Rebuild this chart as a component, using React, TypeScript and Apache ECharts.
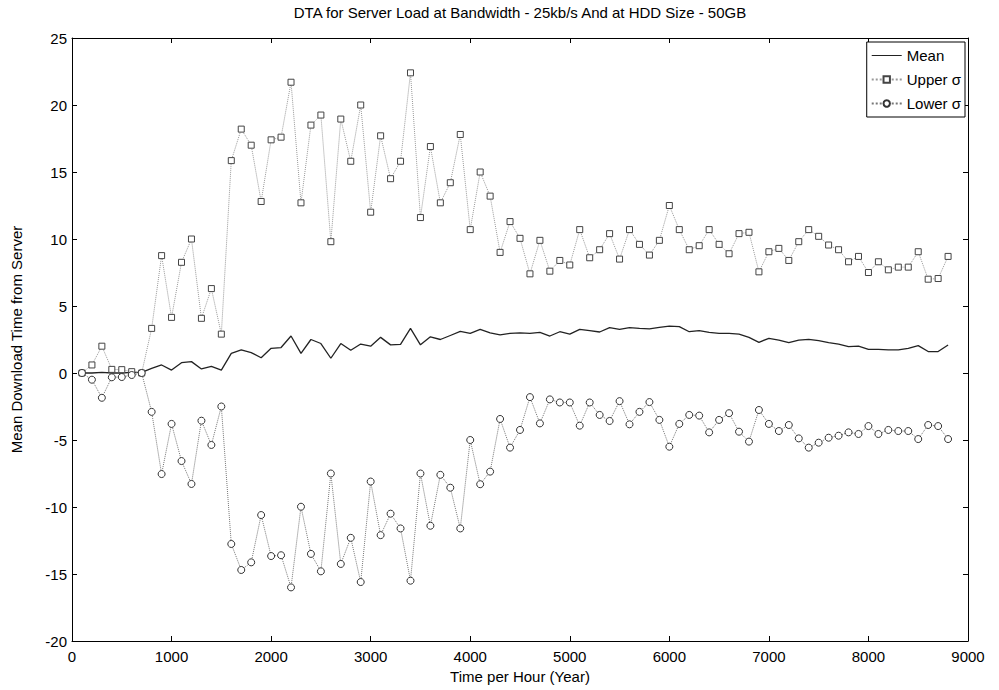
import React, { useEffect, useRef } from "react";
import * as echarts from "echarts";

const xValues: number[] = [
  100, 200, 300, 400, 500, 600, 700, 800, 900, 1000,
  1100, 1200, 1300, 1400, 1500, 1600, 1700, 1800, 1900, 2000,
  2100, 2200, 2300, 2400, 2500, 2600, 2700, 2800, 2900, 3000,
  3100, 3200, 3300, 3400, 3500, 3600, 3700, 3800, 3900, 4000,
  4100, 4200, 4300, 4400, 4500, 4600, 4700, 4800, 4900, 5000,
  5100, 5200, 5300, 5400, 5500, 5600, 5700, 5800, 5900, 6000,
  6100, 6200, 6300, 6400, 6500, 6600, 6700, 6800, 6900, 7000,
  7100, 7200, 7300, 7400, 7500, 7600, 7700, 7800, 7900, 8000,
  8100, 8200, 8300, 8400, 8500, 8600, 8700, 8800,
];

const meanValues: number[] = [
  0, 0, 0.05, 0, 0, 0.05, 0.05, 0.35, 0.6, 0.22,
  0.77, 0.85, 0.3, 0.5, 0.22, 1.47, 1.72, 1.52, 1.14, 1.84,
  1.9, 2.76, 1.47, 2.5, 2.2, 1.1, 2.2, 1.7, 2.16, 2.0,
  2.66, 2.1, 2.14, 3.33, 2.1, 2.7, 2.5, 2.8, 3.1, 2.96,
  3.26, 3.0, 2.84, 2.96, 3.0, 2.96, 3.03, 2.76, 3.08, 2.9,
  3.26, 3.16, 3.06, 3.38, 3.26, 3.38, 3.33, 3.3, 3.4, 3.5,
  3.46, 3.08, 3.16, 3.03, 2.96, 2.96, 2.9, 2.66, 2.29, 2.59,
  2.46, 2.26, 2.46, 2.51, 2.41, 2.26, 2.16, 1.97, 2.0, 1.77,
  1.77, 1.72, 1.72, 1.84, 2.04, 1.6, 1.6, 2.09,
];

const upperValues: number[] = [
  0, 0.6, 2.0, 0.27, 0.25, 0.1, 0.0, 3.33, 8.76, 4.15,
  8.26, 10.0, 4.08, 6.3, 2.9, 15.85, 18.2, 17.0, 12.8, 17.4,
  17.6, 21.7, 12.7, 18.5, 19.25, 9.8, 18.95, 15.8, 20.0, 12.0,
  17.7, 14.5, 15.8, 22.4, 11.6, 16.9, 12.7, 14.2, 17.8, 10.7,
  15.0, 13.2, 9.0, 11.3, 10.05, 7.4, 9.9, 7.6, 8.4, 8.06,
  10.7, 8.6, 9.2, 10.4, 8.5, 10.7, 9.6, 8.8, 9.9, 12.5,
  10.7, 9.2, 9.5, 10.7, 9.6, 8.9, 10.4, 10.5, 7.55, 9.05,
  9.3, 8.4, 9.8, 10.7, 10.2, 9.55, 9.2, 8.3, 8.7, 7.5,
  8.3, 7.7, 7.9, 7.9, 9.05, 7.0, 7.05, 8.7,
];

const lowerValues: number[] = [
  0, -0.5, -1.85, -0.32, -0.3, -0.15, 0, -2.9, -7.54, -3.8,
  -6.57, -8.28, -3.56, -5.37, -2.5, -12.76, -14.7, -14.13, -10.6, -13.66,
  -13.6, -16.0, -9.98, -13.5, -14.8, -7.5, -14.25, -12.3, -15.6, -8.1,
  -12.1, -10.5, -11.6, -15.5, -7.5, -11.4, -7.6, -8.56, -11.6, -5.0,
  -8.3, -7.36, -3.43, -5.57, -4.25, -1.8, -3.76, -1.97, -2.2, -2.2,
  -3.93, -2.2, -3.13, -3.58, -2.1, -3.83, -2.9, -2.17, -3.5, -5.5,
  -3.8, -3.13, -3.18, -4.43, -3.5, -3.0, -4.38, -5.12, -2.76, -3.8,
  -4.33, -3.88, -4.88, -5.57, -5.2, -4.83, -4.68, -4.43, -4.55, -3.96,
  -4.55, -4.25, -4.33, -4.33, -4.93, -3.88, -3.96, -4.93,
];

const seriesNames: string[] = ["Mean", "Upper σ", "Lower σ"];
const titleText = "DTA for Server Load at Bandwidth - 25kb/s And at HDD Size - 50GB";
const xAxisTitle = "Time per Hour (Year)";
const yAxisTitle = "Mean Download Time from Server";

const FONT = "Liberation Sans, Arial, Helvetica, sans-serif";

function pairs(values: number[]): number[][] {
  return xValues.map((x, i) => [x, values[i]]);
}

export default function App() {
  const ref = useRef<HTMLDivElement>(null);

  useEffect(() => {
    if (!ref.current) return;
    const chart = echarts.init(ref.current, undefined, { renderer: "svg" });
    const axisCommon = {
      type: "value" as const,
      axisLine: { show: true, onZero: false, lineStyle: { color: "#000", width: 1 } },
      axisTick: { show: true, inside: true, length: 5, lineStyle: { color: "#000" } },
      splitLine: { show: false },
    };
    const plain = (v: number) => String(v);
    chart.setOption({
      animation: false,
      backgroundColor: "#fff",
      graphic: [
        {
          type: "text",
          x: 520,
          y: 5,
          style: {
            text: titleText,
            fill: "#000",
            font: `15px ${FONT}`,
            textAlign: "center",
            textVerticalAlign: "top",
          },
        },
      ],
      grid: { left: 72, right: 31, top: 38, bottom: 49, containLabel: false },
      legend: {
        orient: "vertical",
        right: 34,
        top: 42,
        backgroundColor: "#fff",
        borderColor: "#000",
        borderWidth: 1,
        borderRadius: 0,
        padding: [6, 4, 6, 4],
        itemGap: 9,
        itemWidth: 30,
        itemHeight: 8,
        textStyle: { fontSize: 15, color: "#000", fontFamily: FONT },
        data: [
          { name: seriesNames[0], icon: "path://M0,0 L30,0 L30,1 L0,1 Z" },
          { name: seriesNames[1] },
          { name: seriesNames[2] },
        ],
      },
      xAxis: [
        {
          ...axisCommon,
          position: "bottom",
          min: 0,
          max: 9000,
          interval: 1000,
          name: xAxisTitle,
          nameLocation: "middle",
          nameGap: 28,
          nameTextStyle: { fontSize: 15, color: "#000", fontFamily: FONT },
          axisLabel: { fontSize: 15, color: "#000", fontFamily: FONT, margin: 8, formatter: plain },
        },
        {
          ...axisCommon,
          position: "top",
          min: 0,
          max: 9000,
          interval: 1000,
          axisLabel: { show: false },
        },
      ],
      yAxis: [
        {
          ...axisCommon,
          position: "left",
          min: -20,
          max: 25,
          interval: 5,
          name: yAxisTitle,
          nameLocation: "middle",
          nameGap: 48,
          nameTextStyle: { fontSize: 15, color: "#000", fontFamily: FONT },
          axisLabel: { fontSize: 15, color: "#000", fontFamily: FONT, margin: 5, formatter: plain },
        },
        {
          ...axisCommon,
          position: "right",
          min: -20,
          max: 25,
          interval: 5,
          axisLabel: { show: false },
        },
      ],
      series: [
        {
          name: seriesNames[0],
          type: "line",
          xAxisIndex: 0,
          yAxisIndex: 0,
          data: pairs(meanValues),
          showSymbol: false,
          symbol: "none",
          lineStyle: { color: "#222", width: 1.3, type: "solid" },
          itemStyle: { color: "#222" },
        },
        {
          name: seriesNames[1],
          type: "line",
          xAxisIndex: 0,
          yAxisIndex: 0,
          data: pairs(upperValues),
          symbol: "rect",
          symbolSize: 6,
          lineStyle: { color: "#999", width: 1, type: "dotted" },
          itemStyle: { color: "#fff", borderColor: "#444", borderWidth: 1 },
        },
        {
          name: seriesNames[2],
          type: "line",
          xAxisIndex: 0,
          yAxisIndex: 0,
          data: pairs(lowerValues),
          symbol: "circle",
          symbolSize: 7,
          lineStyle: { color: "#777", width: 1, type: "dotted" },
          itemStyle: { color: "#fff", borderColor: "#333", borderWidth: 1 },
        },
      ],
    });
    return () => chart.dispose();
  }, []);

  return (
    <div
      ref={ref}
      style={{ position: "fixed", left: 0, top: 0, width: 999, height: 690, background: "#fff" }}
    />
  );
}
